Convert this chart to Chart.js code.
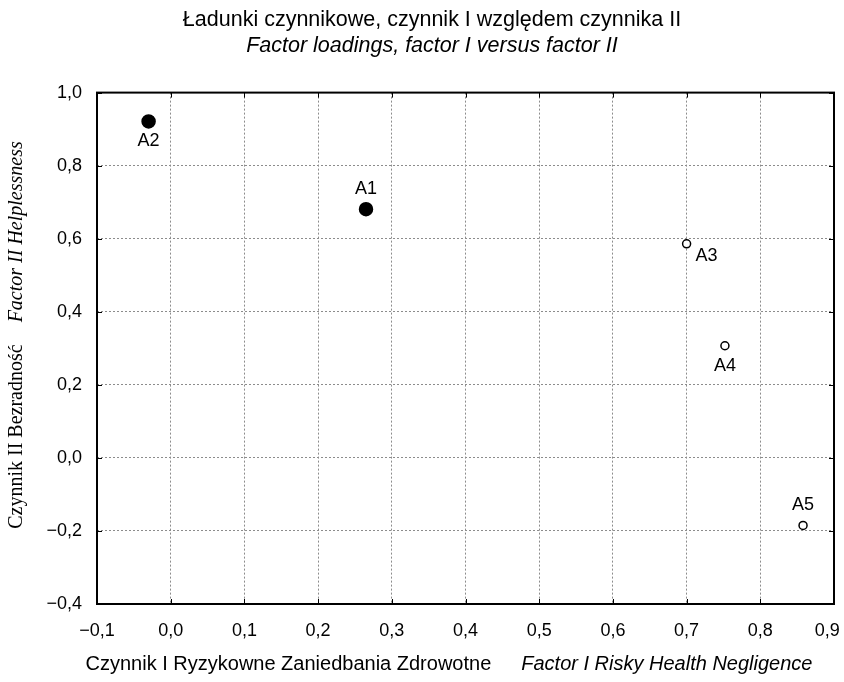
<!DOCTYPE html>
<html>
<head>
<meta charset="utf-8">
<script src="https://cdn.jsdelivr.net/npm/chart.js@4"></script>
<style>
  html, body { margin: 0; padding: 0; background: #fff; }
  #wrap { width: 844px; height: 682px; }
</style>
</head>
<body>
<div id="wrap"><canvas id="wykres" width="844" height="682"></canvas></div>
<script>
// dane: ładunki czynnikowe
const zmienne = ['A1', 'A2', 'A3', 'A4', 'A5'];
const czynnik1 = [0.265, -0.030, 0.700, 0.752, 0.858];
const czynnik2 = [0.681, 0.921, 0.586, 0.307, -0.185];
const xTicks = [-0.1, 0.0, 0.1, 0.2, 0.3, 0.4, 0.5, 0.6, 0.7, 0.8, 0.9];
const yTicks = [-0.4, -0.2, 0.0, 0.2, 0.4, 0.6, 0.8, 1.0];

// gdzie stoi etykieta względem punktu
const polozenie = ['above', 'below', 'belowRight', 'below', 'above'];

const sans = 'Arial, "Liberation Sans", sans-serif';
const serif = '"Times New Roman", "Liberation Serif", serif';

const fmt = v => v.toFixed(1).replace('.', ',').replace('-', '\u2212');

const etykiety = {
  id: 'etykiety',
  afterDatasetsDraw(chart) {
    const ctx = chart.ctx;
    const meta = chart.getDatasetMeta(0);
    ctx.save();
    ctx.font = '18px ' + sans;
    ctx.fillStyle = '#000';
    ctx.textAlign = 'center';
    ctx.textBaseline = 'middle';
    meta.data.forEach((pt, i) => {
      let dx = 0, dy = 0;
      if (polozenie[i] === 'above') dy = -20;
      if (polozenie[i] === 'below') dy = 20;
      if (polozenie[i] === 'belowRight') { dx = 20; dy = 12; }
      ctx.fillText(zmienne[i], pt.x + dx, pt.y + dy);
    });
    ctx.restore();
  }
};

const ramka = {
  id: 'ramka',
  afterDraw(chart) {
    const ctx = chart.ctx;
    const a = chart.chartArea;
    const sx = chart.scales.x, sy = chart.scales.y;
    ctx.save();
    ctx.strokeStyle = '#000';
    ctx.lineWidth = 1;
    ctx.beginPath();
    xTicks.forEach(v => {
      const px = Math.round(sx.getPixelForValue(v)) + 0.5;
      ctx.moveTo(px, a.bottom); ctx.lineTo(px, a.bottom - 5);
      ctx.moveTo(px, a.top); ctx.lineTo(px, a.top + 5);
    });
    yTicks.forEach(v => {
      const py = Math.round(sy.getPixelForValue(v)) + 0.5;
      ctx.moveTo(a.left, py); ctx.lineTo(a.left + 5, py);
      ctx.moveTo(a.right, py); ctx.lineTo(a.right - 5, py);
    });
    ctx.stroke();
    ctx.lineWidth = 2;
    ctx.strokeRect(a.left, a.top, a.right - a.left, a.bottom - a.top);

    // tytuł osi X: część polska prosto, angielska kursywą
    const t1 = 'Czynnik I Ryzykowne Zaniedbania Zdrowotne';
    const t2 = 'Factor I Risky Health Negligence';
    const odstep = 30;
    ctx.fillStyle = '#000';
    ctx.textBaseline = 'middle';
    ctx.textAlign = 'left';
    ctx.font = '20px ' + sans;
    const w1 = ctx.measureText(t1).width;
    ctx.font = 'italic 20px ' + sans;
    const w2 = ctx.measureText(t2).width;
    let x0 = 449 - (w1 + odstep + w2) / 2;
    const yT = 664;
    ctx.font = '20px ' + sans;
    ctx.fillText(t1, x0, yT);
    ctx.font = 'italic 20px ' + sans;
    ctx.fillText(t2, x0 + w1 + odstep, yT);

    // tytuł osi Y, obrócony
    const s1 = 'Czynnik II Bezradność';
    const s2 = 'Factor II Helplessness';
    const odstepY = 22;
    ctx.font = '20px ' + serif;
    const v1 = ctx.measureText(s1).width;
    ctx.font = 'italic 20px ' + serif;
    const v2 = ctx.measureText(s2).width;
    ctx.translate(17, 335);
    ctx.rotate(-Math.PI / 2);
    let y0 = -(v1 + odstepY + v2) / 2;
    ctx.font = '20px ' + serif;
    ctx.fillText(s1, y0, 0);
    ctx.font = 'italic 20px ' + serif;
    ctx.fillText(s2, y0 + v1 + odstepY, 0);
    ctx.restore();
  }
};

new Chart(document.getElementById('wykres').getContext('2d'), {
  type: 'scatter',
  data: {
    datasets: [{
      label: 'Ładunki czynnikowe',
      data: zmienne.map((z, i) => ({ x: czynnik1[i], y: czynnik2[i] })),
      pointRadius: [6.5, 6.5, 4, 4, 4],
      pointHoverRadius: [6.5, 6.5, 4, 4, 4],
      pointBackgroundColor: ['#000', '#000', '#fff', '#fff', '#fff'],
      pointBorderColor: '#000',
      pointBorderWidth: 1.5
    }]
  },
  options: {
    responsive: false,
    animation: false,
    layout: { padding: { left: 30, right: 10, top: 0, bottom: 0 } },
    plugins: {
      legend: { display: false },
      tooltip: { enabled: false },
      title: {
        display: true,
        text: 'Ładunki czynnikowe, czynnik I względem czynnika II',
        color: '#000',
        font: { family: sans, size: 21.5, weight: 'normal' },
        padding: { top: 7, bottom: 0 }
      },
      subtitle: {
        display: true,
        text: 'Factor loadings, factor I versus factor II',
        color: '#000',
        font: { family: sans, size: 21.5, style: 'italic' },
        padding: { top: 0, bottom: 34 }
      }
    },
    scales: {
      x: {
        type: 'linear',
        min: -0.1,
        max: 0.9,
        afterBuildTicks: s => { s.ticks = xTicks.map(v => ({ value: v })); },
        afterFit: s => { s.height = 78; s.paddingLeft = 0; s.paddingRight = 0; },
        ticks: {
          color: '#000',
          font: { family: sans, size: 18 },
          padding: 16,
          maxRotation: 0,
          autoSkip: false,
          // ostatnia etykieta lekko cofnięta, żeby zmieściła się w oknie
          callback: (v, i, arr) => i === arr.length - 1 ? fmt(v) + '\u2007\u2009' : fmt(v)
        },
        grid: { color: '#8c8c8c', lineWidth: 1, drawTicks: false },
        border: { display: false, dash: [2, 2] }
      },
      y: {
        type: 'linear',
        min: -0.4,
        max: 1.0,
        afterBuildTicks: s => { s.ticks = yTicks.map(v => ({ value: v })); },
        afterFit: s => { s.width = 67; s.paddingTop = 0; s.paddingBottom = 0; },
        ticks: {
          color: '#000',
          font: { family: sans, size: 18 },
          padding: 15,
          autoSkip: false,
          callback: v => fmt(v)
        },
        grid: { color: '#8c8c8c', lineWidth: 1, drawTicks: false },
        border: { display: false, dash: [2, 2] }
      }
    }
  },
  plugins: [etykiety, ramka]
});
</script>
</body>
</html>
